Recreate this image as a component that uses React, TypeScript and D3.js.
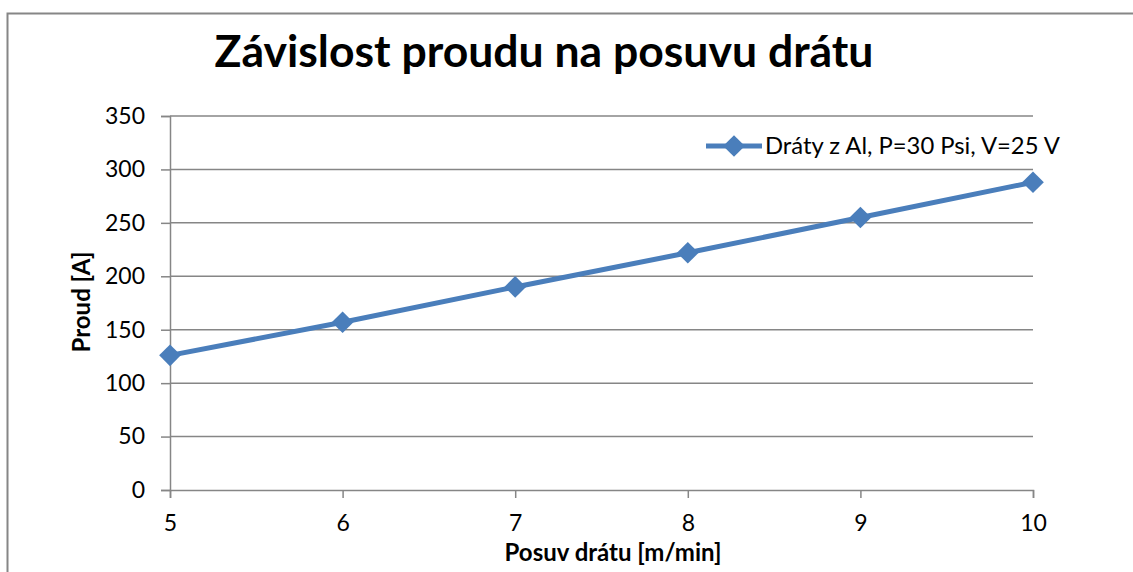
import React, { useRef, useEffect } from "react";
import * as d3 from "d3";

const posuv = [5, 6, 7, 8, 9, 10];
const proud = [126, 157, 190, 222, 255, 288];
const yTicks = [0, 50, 100, 150, 200, 250, 300, 350];
const seriesName = "Dráty z Al, P=30 Psi, V=25 V";

const FONT = "Lato, 'Open Sans', sans-serif";

const App = () => {
  const svgRef = useRef<SVGSVGElement>(null);

  useEffect(() => {
    const svg = d3.select(svgRef.current);
    svg.selectAll("*").remove();

    const x = d3.scaleLinear().domain([5, 10]).range([170, 1033]);
    const y = d3.scaleLinear().domain([0, 350]).range([490, 116]);
    const grey = "#868686";

    // chart border (left + top only visible)
    svg
      .append("path")
      .attr("d", "M7.5,572 L7.5,13.5 L1133,13.5")
      .attr("fill", "none")
      .attr("stroke", grey)
      .attr("stroke-width", 2);

    // title
    svg
      .append("text")
      .attr("x", 544)
      .attr("y", 67)
      .attr("text-anchor", "middle")
      .attr("font-family", FONT)
      .attr("font-weight", "bold")
      .attr("font-size", 44.5)
      .text("Závislost proudu na posuvu drátu");

    // gridlines
    svg
      .append("g")
      .selectAll("line")
      .data(yTicks.slice(1))
      .enter()
      .append("line")
      .attr("x1", 170)
      .attr("x2", 1033)
      .attr("y1", (d) => y(d))
      .attr("y2", (d) => y(d))
      .attr("stroke", grey)
      .attr("stroke-width", 1.5);

    // y axis
    const yAxis = svg
      .append("g")
      .attr("transform", "translate(170,0)")
      .call(
        d3.axisLeft(y).tickValues(yTicks).tickFormat(d3.format("d")).tickSize(9).tickPadding(16)
      );
    yAxis.select(".domain").attr("stroke", grey).attr("stroke-width", 1.5);
    yAxis.selectAll(".tick line").attr("stroke", grey).attr("stroke-width", 1.5);
    yAxis
      .selectAll("text")
      .attr("font-family", FONT)
      .attr("font-size", 23)
      .attr("fill", "#000");

    // x axis
    const xAxis = svg
      .append("g")
      .attr("transform", "translate(0,490)")
      .call(
        d3.axisBottom(x).tickValues(posuv).tickFormat(d3.format("d")).tickSize(8).tickPadding(17)
      );
    xAxis.select(".domain").attr("stroke", grey).attr("stroke-width", 1.5);
    xAxis.selectAll(".tick line").attr("stroke", grey).attr("stroke-width", 1.5);
    xAxis
      .selectAll("text")
      .attr("font-family", FONT)
      .attr("font-size", 23)
      .attr("fill", "#000");

    // axis titles
    svg
      .append("text")
      .attr("x", 613)
      .attr("y", 561)
      .attr("text-anchor", "middle")
      .attr("font-family", FONT)
      .attr("font-weight", "bold")
      .attr("font-size", 24)
      .text("Posuv drátu [m/min]");

    svg
      .append("text")
      .attr("transform", "translate(90,302) rotate(-90)")
      .attr("text-anchor", "middle")
      .attr("font-family", FONT)
      .attr("font-weight", "bold")
      .attr("font-size", 24)
      .text("Proud [A]");

    // series
    const blue = "#4a7ebb";
    const pts = posuv.map((d, i) => [d, proud[i]] as [number, number]);
    const line = d3
      .line<[number, number]>()
      .x((d) => x(d[0]))
      .y((d) => y(d[1]));

    svg
      .append("path")
      .datum(pts)
      .attr("d", line)
      .attr("fill", "none")
      .attr("stroke", blue)
      .attr("stroke-width", 5)
      .attr("stroke-linejoin", "round");

    const diamond = d3.symbol().type(d3.symbolDiamond2).size(300);
    svg
      .append("g")
      .selectAll("path")
      .data(pts)
      .enter()
      .append("path")
      .attr("d", diamond)
      .attr("transform", (d) => `translate(${x(d[0])},${y(d[1])})`)
      .attr("fill", blue);

    // legend
    const lg = svg.append("g").attr("transform", "translate(706,146)");
    lg.append("line")
      .attr("x1", 0)
      .attr("x2", 56)
      .attr("stroke", blue)
      .attr("stroke-width", 5);
    lg.append("path")
      .attr("d", diamond)
      .attr("transform", "translate(28,0)")
      .attr("fill", blue);
    lg.append("text")
      .attr("x", 59)
      .attr("y", 8)
      .attr("font-family", FONT)
      .attr("font-size", 23.8)
      .text(seriesName);
  });

  return (
    <div>
      <svg
        ref={svgRef}
        width={1133}
        height={572}
        style={{ position: "absolute", left: 0, top: 0, background: "#fff" }}
      ></svg>
    </div>
  );
};

export default App;
